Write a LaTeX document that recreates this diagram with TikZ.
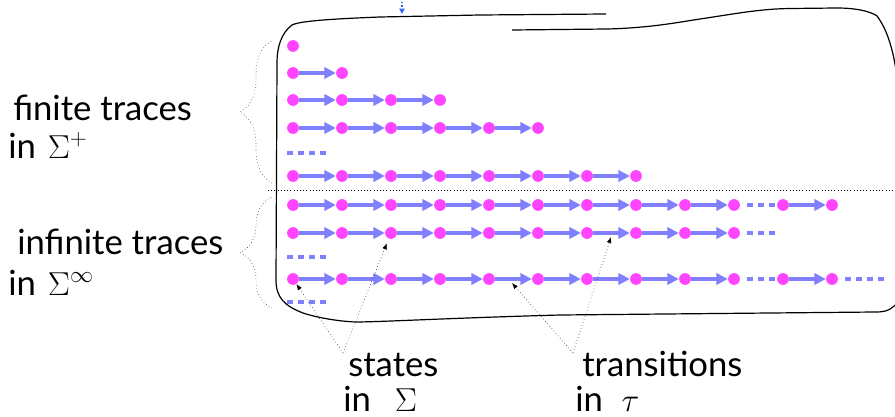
\documentclass[tikz,border=0pt]{standalone}
\usepackage{fontspec}
\setmainfont{Lato}
\usepackage{tikz}
\usetikzlibrary{arrows.meta, positioning, calc, decorations.pathreplacing}

\definecolor{statepink}{RGB}{255,68,255}
\definecolor{transblue}{RGB}{128,128,255}
\definecolor{markblue}{RGB}{51,102,255}

% one trace: #1 row name, #2 y, #3 number of states
\newcommand{\tracerow}[3]{%
  \foreach \i in {1,...,#3}{
    \node[state] (#1-\i) at ({293+49*(\i-1)},#2) {};
    \ifnum\i>1
      \pgfmathtruncatemacro{\prev}{\i-1}
      \draw[trans] (#1-\prev) -- (#1-\i);
    \fi
  }%
}

\begin{document}
\begin{tikzpicture}[
    x=0.75pt, y=-0.75pt,
    % Styles
    state/.style={circle, fill=statepink, minimum size=8.8pt, inner sep=0pt},
    trans/.style={transblue, line width=2.4pt, -{Triangle[length=8.7pt, width=8.5pt]}},
    cont/.style={transblue, line width=2.4pt, dash pattern=on 4.5pt off 3.75pt},
    note/.style={dotted, thin, -{Latex[length=4.5pt, width=3.5pt]}},
    bracedots/.style={dotted, thin, decorate, decoration={brace, amplitude=24pt}},
    lbl/.style={font=\fontsize{26}{30}\selectfont, inner sep=0pt, anchor=base west},
    outline/.style={line width=0.9pt}
]
    \useasboundingbox (0,0) rectangle (895,417);
    \clip (0,0) rectangle (895,417);

    % Set outline (hand drawn)
    \draw[outline] (512,30) -- (607,29)
        .. controls (650,28) and (680,22) .. (700,19)
        .. controls (740,13) and (760,9) .. (790,8.5) -- (837,8)
        .. controls (855,8) and (870,11) .. (877,16)
        .. controls (886,28) and (892,45) .. (896,70) -- (902,200)
        .. controls (902,290) and (900,303) .. (893,307)
        .. controls (888,311) and (884,312) .. (875,312) -- (560,315)
        .. controls (450,318) and (380,322) .. (355,322)
        .. controls (335,321) and (315,317) .. (303,313)
        .. controls (285,306) and (276,298) .. (276,280) -- (277,62)
        .. controls (277,48) and (281,33) .. (292,25)
        .. controls (300,21) and (330,19) .. (380,17) -- (480,15) -- (606,14);

    % Marker at the top
    \coordinate (mark top) at (402,-2);
    \coordinate (mark end) at (402,14);
    \draw[markblue, dotted, line width=0.8pt, -{Triangle[length=4pt, width=4pt]}] (mark top) -- (mark end);

    % Finite traces
    \tracerow{r1}{46}{1}
    \tracerow{r2}{73}{2}
    \tracerow{r3}{100}{4}
    \tracerow{r4}{128}{6}
    \draw[cont] (287,153) -- ++(40,0);
    \tracerow{r5}{176}{8}

    % Separator
    \draw[dotted, thin] (268,190) -- (895,190);

    % Infinite traces
    \tracerow{r6}{205}{10}
    \node[state] (r6-11) at (783,205) {};
    \node[state] (r6-12) at (832,205) {};
    \draw[cont, shorten <=5.25pt, shorten >=1.5pt] (r6-10) -- (r6-11);
    \draw[trans] (r6-11) -- (r6-12);

    \tracerow{r7}{233}{10}
    \coordinate (r7-end) at (775,233);
    \draw[cont, shorten <=5.25pt] (r7-10) -- (r7-end);
    \draw[cont] (287,257) -- ++(40,0);

    \tracerow{r8}{279}{10}
    \node[state] (r8-11) at (783,279) {};
    \node[state] (r8-12) at (832,279) {};
    \coordinate (r8-end) at (885,279);
    \draw[cont, shorten <=5.25pt, shorten >=1.5pt] (r8-10) -- (r8-11);
    \draw[trans] (r8-11) -- (r8-12);
    \draw[cont, shorten <=5.25pt] (r8-12) -- (r8-end);
    \draw[cont] (287,302) -- ++(40,0);

    % Braces and their labels
    \draw[bracedots] (272,183) -- (272,41);
    \draw[bracedots] (272,308) -- (272,197);
    \node[lbl] (fin) at (13,121) {finite traces};
    \node[lbl] (finset) at (8,158) {in\hspace{9pt}$\Sigma^+$};
    \node[lbl] (inf) at (17,254) {infinite traces};
    \node[lbl] (infset) at (8,295) {in\hspace{9pt}$\Sigma^\infty$};

    % Bottom labels
    \node[lbl] (states) at (348,376) {states};
    \node[lbl] (stateset) at (343,411) {in\hspace{18pt}$\Sigma$};
    \node[lbl] (transitions) at (582,376) {transitions};
    \node[lbl] (transset) at (575,411) {in\hspace{14pt}$\tau$};

    % Pointers
    \coordinate (sapex) at (343,353);
    \coordinate (tapex) at (573,353);
    \coordinate (t7) at ($(r7-7)!0.49!(r7-8)+(0,4)$);
    \coordinate (t8) at ($(r8-5)!0.47!(r8-6)+(0,4)$);
    \draw[note] (sapex) -- (r8-1);
    \draw[note, shorten >=3.75pt] (sapex) -- (r7-3);
    \draw[note] (tapex) -- (t8);
    \draw[note] (tapex) -- (t7);
\end{tikzpicture}
\end{document}
